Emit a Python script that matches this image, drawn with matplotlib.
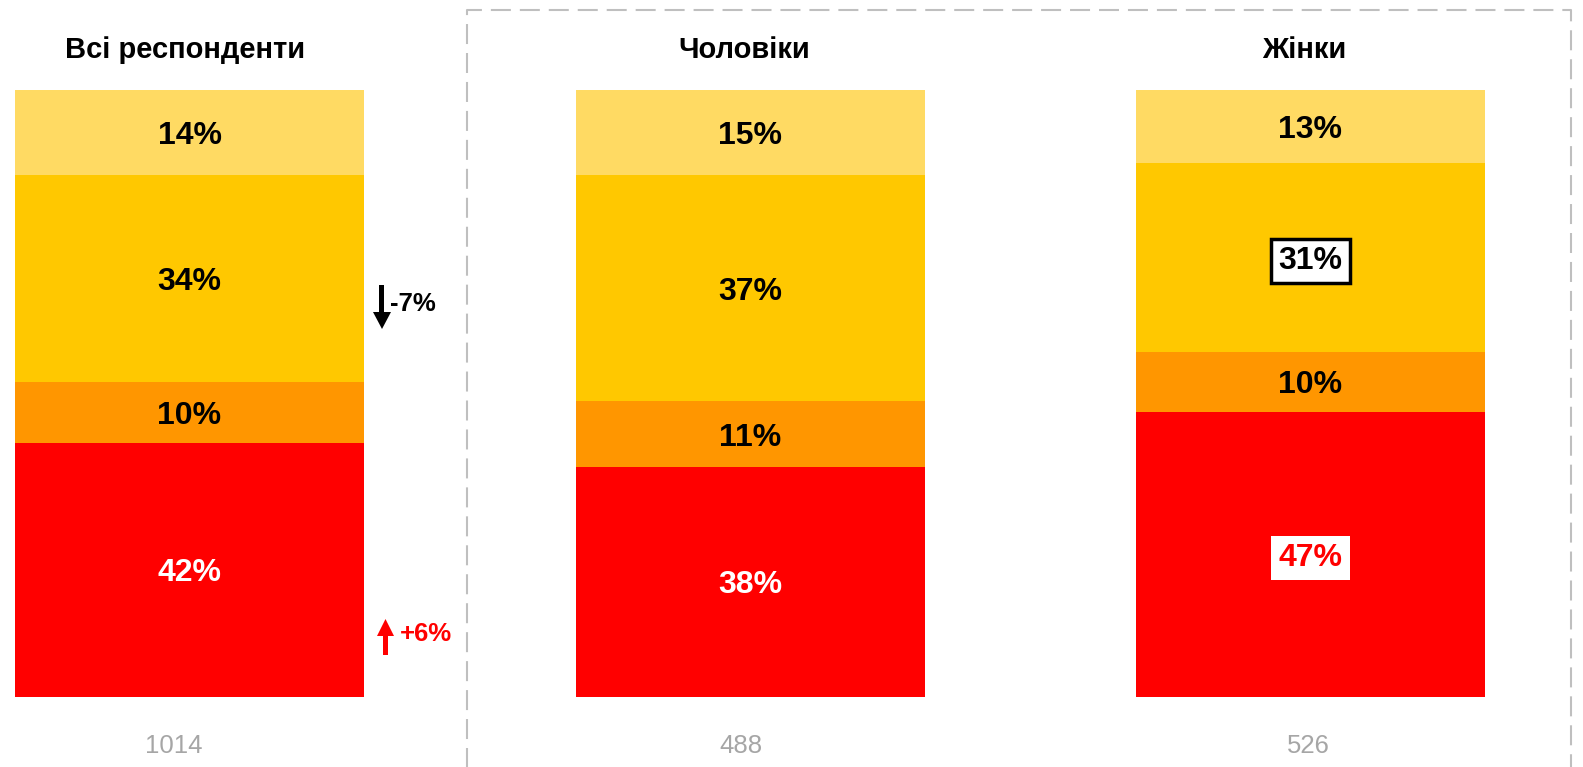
import matplotlib.pyplot as plt
import matplotlib
import numpy as np
from matplotlib.patches import Polygon
from matplotlib.transforms import Affine2D

matplotlib.rcParams['font.family'] = ['Liberation Sans', 'DejaVu Sans']

# ---------------------------------------------------------------------------
# Data
# ---------------------------------------------------------------------------
groups = ['Всі респонденти', 'Чоловіки', 'Жінки']
counts = ['1014', '488', '526']
# segment heights (share, %), bottom to top, as drawn in the chart
seg_red    = [41.9, 37.9, 46.9]
seg_orange = [10.0, 10.8, 10.0]
seg_gold   = [34.1, 37.3, 31.1]
seg_light  = [14.0, 14.0, 12.0]
# printed (rounded) labels
lab_red    = ['42%', '38%', '47%']
lab_orange = ['10%', '11%', '10%']
lab_gold   = ['34%', '37%', '31%']
lab_light  = ['14%', '15%', '13%']

colors = ['#FF0000', '#FF9600', '#FFC800', '#FFDA63']
text_colors = ['white', 'black', 'black', 'black']

# ---------------------------------------------------------------------------
# Figure geometry (pixel helpers)
# ---------------------------------------------------------------------------
W, H = 1583, 767
fig = plt.figure(figsize=(W / 100, H / 100), dpi=100)
ax = fig.add_axes([0, 0, 1, 1])

X0, XS = 189.5, 560.5          # centre of first bar, spacing (px)
Y0, YS = 697.0, 6.07           # baseline (px from top), px per percent


def fx(px):
    return (px - X0) / XS


def fy(py):
    return (Y0 - py) / YS


ax.set_xlim(fx(0), fx(W))
ax.set_ylim(fy(H), fy(0))
ax.axis('off')

x = np.arange(len(groups))
stack = np.array([seg_red, seg_orange, seg_gold, seg_light])
labels = [lab_red, lab_orange, lab_gold, lab_light]
bottom = np.zeros(len(groups))
for i in range(stack.shape[0]):
    ax.bar(x, stack[i], bottom=bottom, width=349 / XS, color=colors[i],
           edgecolor='none')
    for j in range(len(groups)):
        yc = bottom[j] + stack[i][j] / 2 - 3.5 / YS
        kw = dict(ha='center', va='center', fontsize=23, fontweight='bold',
                  color=text_colors[i])
        if j == 2 and i == 2:
            kw['bbox'] = dict(boxstyle='square,pad=0.22', fc='white',
                              ec='black', lw=2.5)
        if j == 2 and i == 0:
            kw['color'] = '#FF0000'
            kw['bbox'] = dict(boxstyle='square,pad=0.22', fc='white',
                              ec='none')
        ax.text(x[j], yc, labels[i][j], **kw)
    bottom += stack[i]

title_dx = [-4, -6, -6]
count_dx = [-16, -9, -2]
for j in range(len(groups)):
    ax.text(x[j] + title_dx[j] / XS, fy(50.5), groups[j], ha='center',
            va='center', fontsize=21, fontweight='bold', color='black')
    ax.text(x[j] + count_dx[j] / XS, fy(746), counts[j], ha='center',
            va='center', fontsize=18.5, color='#A6A6A6')

# change arrows (drawn in pixel coordinates, y from top)
pix = Affine2D().scale(1, -1).translate(0, H)
down = [(379, 285), (384, 285), (384, 312), (391, 312), (382, 329),
        (373, 312), (379, 312)]
up = [(383, 655), (388, 655), (388, 636), (394, 636), (385.5, 619),
      (377, 636), (383, 636)]
fig.patches.append(Polygon(down, closed=True, fc='black', ec='none',
                           transform=pix, figure=fig))
fig.patches.append(Polygon(up, closed=True, fc='#FF0000', ec='none',
                           transform=pix, figure=fig))
ax.text(fx(390), fy(304), '-7%', ha='left', va='center', fontsize=18.5,
        fontweight='bold', color='black')
ax.text(fx(400), fy(634), '+6%', ha='left', va='center', fontsize=18.5,
        fontweight='bold', color='#FF0000')

# dashed frame around the gender split
dash = (0, (9.6, 4.3))
fx_l, fx_r, fy_t, fy_b = fx(467), fx(1571), fy(10), fy(790)
ax.plot([fx_l, fx_l, fx_r, fx_r], [fy_b, fy_t, fy_t, fy_b], color='#BFBFBF',
        lw=1.5, linestyle=dash, clip_on=False)

plt.savefig('out.png', dpi=100, facecolor='white')
plt.close()
